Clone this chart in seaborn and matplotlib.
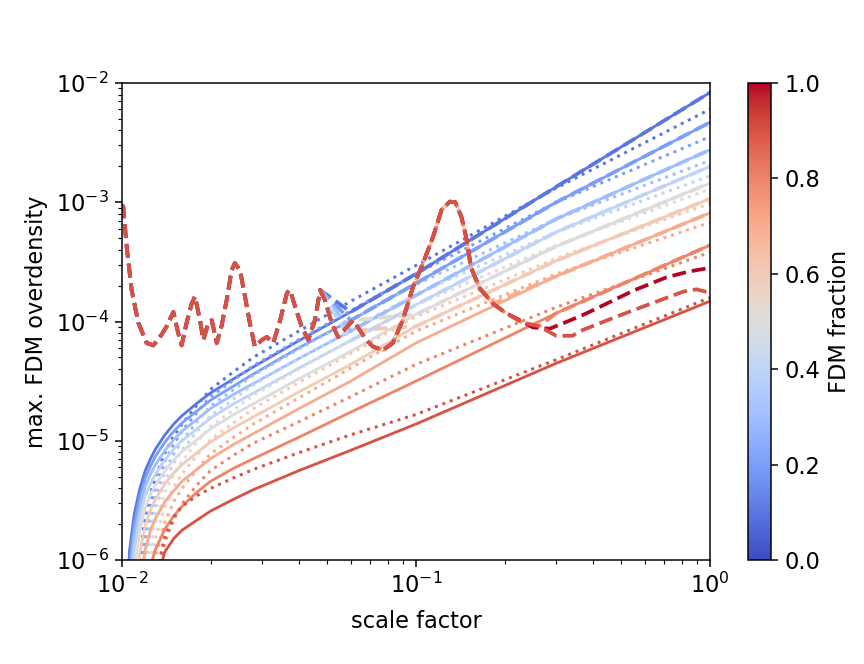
import matplotlib
matplotlib.use("Agg")
import matplotlib.pyplot as plt
import seaborn as sns

# FDM fractions of the runs
fractions = [0.1, 0.2, 0.3, 0.4, 0.5, 0.6, 0.7, 0.8, 0.9]

# scale factors at which the smooth growth curves are sampled
scale_grid = [0.0102, 0.0106, 0.011, 0.0115, 0.012, 0.0125, 0.013, 0.014, 0.015, 0.016,
              0.018, 0.02, 0.024, 0.028, 0.04, 0.06, 0.1, 0.3, 1.0]

# log10 of the max. FDM overdensity, full solution (solid)
solid_01 = [-7.0, -5.93, -5.62, -5.40, -5.25, -5.15, -5.07, -4.95, -4.86, -4.79, -4.685, -4.60, -4.48, -4.38, -4.16, -3.92, -3.60, -2.87, -2.08]
solid_02 = [-7.5, -6.05, -5.70, -5.47, -5.31, -5.21, -5.13, -5.01, -4.92, -4.85, -4.75, -4.66, -4.54, -4.44, -4.22, -3.99, -3.68, -3.00, -2.33]
solid_03 = [-8.0, -6.20, -5.80, -5.55, -5.38, -5.28, -5.20, -5.08, -4.99, -4.92, -4.82, -4.73, -4.61, -4.52, -4.31, -4.08, -3.78, -3.14, -2.56]
solid_04 = [-8.5, -6.40, -5.92, -5.64, -5.46, -5.36, -5.28, -5.16, -5.07, -5.00, -4.90, -4.81, -4.69, -4.60, -4.39, -4.16, -3.86, -3.25, -2.70]
solid_05 = [-9.0, -6.70, -6.08, -5.76, -5.56, -5.45, -5.37, -5.25, -5.16, -5.09, -4.99, -4.90, -4.78, -4.69, -4.48, -4.25, -3.94, -3.37, -2.84]
solid_06 = [-9.5, -7.20, -6.35, -5.94, -5.71, -5.58, -5.49, -5.36, -5.27, -5.20, -5.10, -5.01, -4.89, -4.80, -4.59, -4.36, -4.04, -3.49, -2.97]
solid_07 = [-10., -8.00, -6.80, -6.22, -5.91, -5.75, -5.65, -5.51, -5.42, -5.34, -5.24, -5.15, -5.03, -4.94, -4.73, -4.50, -4.18, -3.62, -3.09]
solid_08 = [-10., -9.00, -7.50, -6.75, -6.28, -6.05, -5.91, -5.74, -5.63, -5.55, -5.43, -5.34, -5.23, -5.15, -4.97, -4.76, -4.50, -3.93, -3.36]
solid_09 = [-10., -10.0, -9.00, -8.00, -7.50, -7.00, -6.20, -5.93, -5.82, -5.75, -5.665, -5.59, -5.49, -5.41, -5.25, -5.08, -4.86, -4.35, -3.83]

# log10 of the max. FDM overdensity, linear approximation (dotted)
dotted_01 = [-9., -8., -7.0, -6.00, -5.62, -5.44, -5.30, -5.10, -4.96, -4.86, -4.70, -4.57, -4.42, -4.30, -4.08, -3.83, -3.53, -2.88, -2.22]
dotted_02 = [-9., -8., -7.2, -6.30, -5.76, -5.54, -5.38, -5.17, -5.03, -4.92, -4.76, -4.63, -4.49, -4.37, -4.15, -3.91, -3.60, -3.00, -2.45]
dotted_03 = [-9., -8., -7.4, -6.60, -5.92, -5.66, -5.47, -5.25, -5.11, -5.00, -4.84, -4.71, -4.57, -4.45, -4.23, -3.99, -3.69, -3.14, -2.65]
dotted_04 = [-9., -8., -7.6, -6.90, -6.12, -5.79, -5.57, -5.34, -5.19, -5.08, -4.92, -4.79, -4.65, -4.53, -4.31, -4.07, -3.77, -3.25, -2.78]
dotted_05 = [-9., -8., -7.8, -7.20, -6.35, -5.94, -5.68, -5.43, -5.28, -5.17, -5.01, -4.88, -4.74, -4.62, -4.40, -4.16, -3.86, -3.36, -2.89]
dotted_06 = [-9., -9., -8.0, -7.50, -6.60, -6.12, -5.82, -5.55, -5.39, -5.28, -5.12, -4.99, -4.85, -4.73, -4.51, -4.27, -3.96, -3.47, -3.01]
dotted_07 = [-9., -9., -9.0, -7.80, -6.90, -6.33, -5.98, -5.68, -5.51, -5.40, -5.24, -5.11, -4.97, -4.86, -4.64, -4.39, -4.08, -3.60, -3.17]
dotted_08 = [-9., -9., -9.0, -8.00, -7.20, -6.60, -6.20, -5.85, -5.66, -5.53, -5.37, -5.25, -5.12, -5.02, -4.84, -4.63, -4.36, -3.88, -3.42]
dotted_09 = [-9., -9., -9.0, -9.00, -8.00, -7.00, -6.15, -5.80, -5.64, -5.55, -5.46, -5.40, -5.31, -5.24, -5.10, -4.95, -4.78, -4.32, -3.80]

# oscillating transient seen by all runs (dashed), log10 values
osc_a = [0.0100, 0.0101, 0.01037, 0.01079, 0.01136, 0.01213, 0.01278, 0.01364,
         0.01419, 0.01495, 0.01554, 0.01595, 0.01659, 0.01726, 0.01771, 0.01842,
         0.01891, 0.01967, 0.0202, 0.0210, 0.0218, 0.0227, 0.0236, 0.0242,
         0.0252, 0.0262, 0.0272, 0.0283, 0.0299, 0.0311, 0.0327, 0.0345,
         0.0364, 0.0373, 0.0388, 0.0408, 0.0430, 0.0453, 0.0472, 0.0490,
         0.0516, 0.0543, 0.0580, 0.0611, 0.0643, 0.0677, 0.0713, 0.0772,
         0.0834, 0.0901, 0.0977, 0.1057, 0.1143, 0.1221, 0.1303, 0.1360,
         0.1426, 0.1483, 0.1540, 0.1646, 0.1826, 0.2026, 0.2304, 0.262]
osc_v = [-3.02, -3.04, -3.37, -3.74, -4.01, -4.18, -4.20, -4.11,
         -4.04, -3.92, -4.10, -4.20, -4.01, -3.85, -3.79, -3.99,
         -4.155, -4.01, -3.99, -4.18, -4.04, -3.82, -3.57, -3.51,
         -3.57, -3.79, -4.01, -4.21, -4.155, -4.13, -4.18, -3.99,
         -3.76, -3.736, -3.876, -4.04, -4.155, -3.99, -3.736, -3.82,
         -4.01, -4.13, -4.05, -3.99, -4.07, -4.155, -4.21, -4.24,
         -4.18, -3.99, -3.71, -3.51, -3.29, -3.065, -2.995, -3.00,
         -3.12, -3.30, -3.55, -3.72, -3.85, -3.93, -4.01, -4.04]

# transient range kept by each dashed run before it joins its growth curve
osc_start = [0.0, 0.0, 0.0, 0.0, 0.0, 0.0, 0.0713, 0.0713]
osc_end = [0.0472, 0.0472, 0.0472, 0.0472, 0.0611, 0.0643, 0.1826, 0.262]
join_from = [0.06, 0.06, 0.06, 0.06, 0.1, 0.1, 0.3, 0.3]
dash_offset = [0.0, 0.0, 0.0, 0.0, 0.0, 0.0, 2.6, 1.3]

# late-time dashed tails of the FDM-rich runs
tail_09_a = [0.3, 0.34, 0.37, 0.48, 0.63, 0.81, 0.9, 1.0]
tail_09_v = [-4.12, -4.12, -4.07, -3.96, -3.85, -3.75, -3.73, -3.76]
osc_end_10 = 0.2026
tail_10_a = [0.23, 0.25, 0.285, 0.32, 0.37, 0.42, 0.55, 0.71, 0.85, 1.0]
tail_10_v = [-4.00, -4.05, -4.06, -4.01, -3.945, -3.88, -3.74, -3.63, -3.58, -3.55]

solids = [solid_01, solid_02, solid_03, solid_04, solid_05, solid_06, solid_07, solid_08, solid_09]
dotteds = [dotted_01, dotted_02, dotted_03, dotted_04, dotted_05, dotted_06, dotted_07, dotted_08, dotted_09]

plt.rcParams["font.size"] = 12
cmap = plt.get_cmap("coolwarm")
W, H, DPI = 864, 664, 135
fig = plt.figure(figsize=(W / DPI, H / DPI), dpi=DPI)
ax = fig.add_axes([122 / W, 1 - 560 / H, 588 / W, 477 / H])
cax = fig.add_axes([748 / W, 1 - 560 / H, 23 / W, 477 / H])
ax.set_xscale("log")
ax.set_yscale("log")


def pw(vals):
    return [10.0 ** v for v in vals]


def draw(x, logy, color, ls, lw):
    sns.lineplot(x=x, y=pw(logy), ax=ax, color=color, linestyle=ls, lw=lw,
                 estimator=None, sort=False, legend=False)


# smooth growth curves
for f, s, d in zip(fractions, solids, dotteds):
    c = cmap(f)
    draw(scale_grid, s, c, "-", 1.5)
    draw(scale_grid, d, c, ":", 1.6)

# dashed runs: transient, then growth
dash_runs = []
for i, f in enumerate(fractions[:8]):
    idx = [j for j, a in enumerate(osc_a) if osc_start[i] <= a <= osc_end[i]]
    xa = [osc_a[j] for j in idx]
    ya = [osc_v[j] for j in idx]
    xb = [a for a in scale_grid if a >= join_from[i]]
    yb = solids[i][len(scale_grid) - len(xb):]
    dash_runs.append((f, xa + xb, ya + yb, dash_offset[i]))
n10 = len([a for a in osc_a if a <= osc_end_10])
dash_runs.append((1.0, osc_a[:n10] + tail_10_a, osc_v[:n10] + tail_10_v, 0.0))
dash_runs.append((0.9, osc_a + tail_09_a, osc_v + tail_09_v, 0.0))

for f, xs, ys, off in dash_runs:
    draw(xs, ys, cmap(f), (off, (3.7, 1.6)), 2.0)

ax.set_xlim(1e-2, 1e0)
ax.set_ylim(1e-6, 1e-2)
ax.set_xlabel("scale factor", labelpad=6)
ax.set_ylabel("max. FDM overdensity")

sm = plt.cm.ScalarMappable(cmap=cmap, norm=plt.Normalize(0, 1))
cb = fig.colorbar(sm, cax=cax, ticks=[0.0, 0.2, 0.4, 0.6, 0.8, 1.0])
cb.set_label("FDM fraction")

fig.savefig("out.png", dpi=DPI)
